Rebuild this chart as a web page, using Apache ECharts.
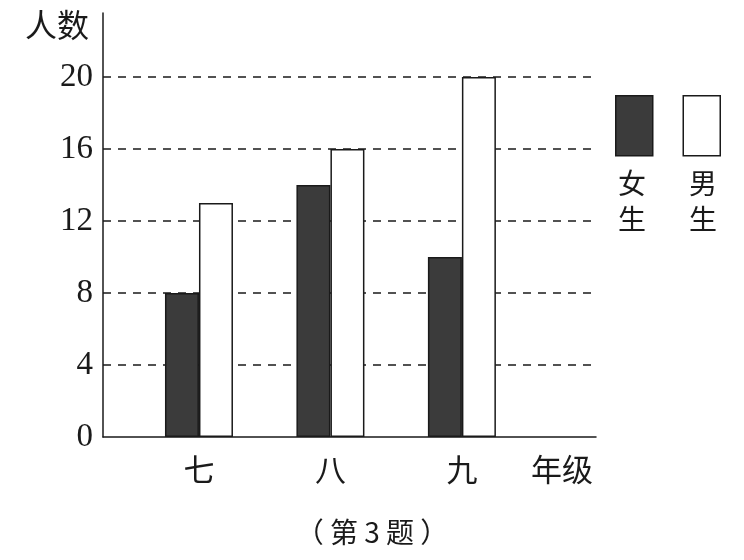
<!DOCTYPE html>
<html>
<head>
<meta charset="utf-8">
<script src="https://cdn.jsdelivr.net/npm/echarts@6/dist/echarts.min.js"></script>
<style>
html,body{margin:0;padding:0;background:#fff;}
#main{width:744px;height:560px;}
</style>
</head>
<body>
<div id="main"></div>
<script>
const categories = ['七', '八', '九'];
const seriesNames = ['女生', '男生'];
const girls = [8, 14, 10];
const boys = [13, 16, 20];
const yTickValues = [0, 4, 8, 12, 16, 20];
const xPositions = [1, 2, 3];

const cjk = '"Noto Sans CJK SC", sans-serif';
const serif = '"Liberation Serif", "DejaVu Serif", serif';
const ink = '#1a1a1a';

const chart = echarts.init(document.getElementById('main'), null, {renderer: 'canvas'});
chart.setOption({
  backgroundColor: '#ffffff',
  animation: false,
  title: [
    {text: '女\n生', left: 613, top: 160, textStyle: {fontFamily: cjk, fontSize: 28, fontWeight: 'normal', color: ink, lineHeight: 36}},
    {text: '男\n生', left: 684, top: 160, textStyle: {fontFamily: cjk, fontSize: 28, fontWeight: 'normal', color: ink, lineHeight: 36}},
    {text: '（ 第 3 题 ）', left: 'center', top: 513, textStyle: {fontFamily: cjk, fontSize: 28, fontWeight: 'normal', color: ink}}
  ],
  legend: {
    left: 610, top: 90,
    icon: 'rect',
    itemWidth: 37, itemHeight: 60, itemGap: 29,
    formatter: () => '',
    itemStyle: {borderColor: ink, borderWidth: 1.5},
    data: seriesNames
  },
  grid: {left: 103, top: 13, width: 493, height: 424, containLabel: false, outerBoundsMode: 'none'},
  xAxis: {
    type: 'value',
    min: 0.27, max: 4.02,
    name: '年级',
    nameLocation: 'end',
    nameGap: 0,
    nameTextStyle: {fontFamily: cjk, fontSize: 31, color: ink, align: 'right', verticalAlign: 'top', padding: [17, 3, 0, 0]},
    axisLine: {show: true, lineStyle: {color: ink, width: 1.5}},
    axisTick: {show: false},
    splitLine: {show: false},
    axisLabel: {
      customValues: xPositions,
      formatter: v => categories[Math.round(v) - 1] || '',
      fontFamily: cjk, fontSize: 31, color: ink, margin: 17
    }
  },
  yAxis: {
    type: 'value',
    min: 0, max: 23.55,
    name: '人数',
    nameLocation: 'end',
    nameGap: -12,
    nameTextStyle: {fontFamily: cjk, fontSize: 32, color: ink, align: 'right', verticalAlign: 'middle', padding: [0, 14, 0, 0]},
    axisLine: {show: true, lineStyle: {color: ink, width: 1.5}},
    axisTick: {show: false},
    axisLabel: {
      customValues: yTickValues,
      fontFamily: serif, fontSize: 33, color: ink, margin: 10
    },
    splitLine: {
      show: true,
      showMinLine: false,
      showMaxLine: false,
      lineStyle: {color: ink, width: 1.5, type: [8, 7]}
    },
    interval: 4
  },
  series: [
    {
      name: seriesNames[0], type: 'bar', barWidth: 34, barGap: '0%',
      data: girls.map((v, i) => [xPositions[i], v]),
      itemStyle: {color: '#3b3b3b', borderColor: ink, borderWidth: 1.5}
    },
    {
      name: seriesNames[1], type: 'bar', barWidth: 34, barGap: '0%',
      data: boys.map((v, i) => [xPositions[i], v]),
      itemStyle: {color: '#ffffff', borderColor: ink, borderWidth: 1.5}
    }
  ]
});
</script>
</body>
</html>
